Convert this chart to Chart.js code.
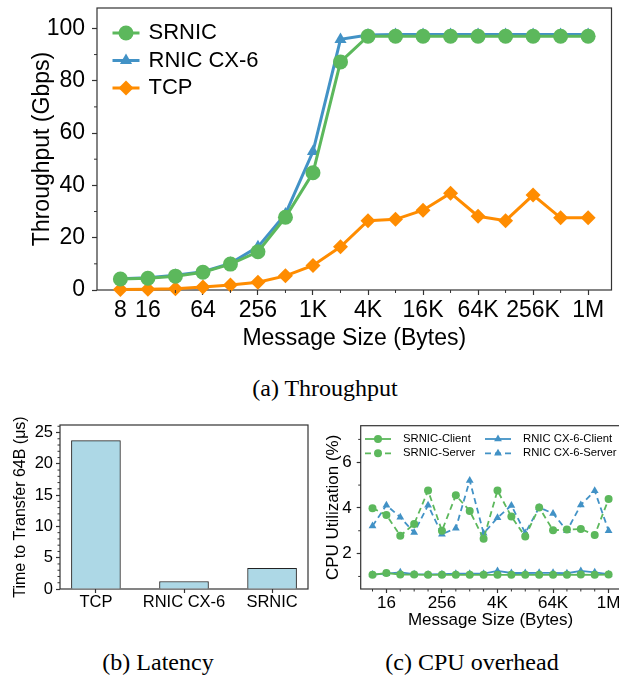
<!DOCTYPE html>
<html>
<head>
<meta charset="utf-8">
<script src="https://cdn.jsdelivr.net/npm/chart.js@4.4.0/dist/chart.umd.min.js"></script>
<style>
  html, body { margin: 0; padding: 0; background: #fff; overflow: hidden; width: 619px; height: 679px; }
  .box { position: absolute; }
  .cap { position: absolute; font-family: "Liberation Serif", "Times New Roman", serif; font-size: 24px; color: #000; white-space: nowrap; transform: translateX(-50%); }
</style>
</head>
<body>
<div class="box" style="left:0;top:0"><canvas id="thr" width="619" height="360"></canvas></div>
<div class="cap" style="left:325px;top:375px">(a) Throughput</div>
<div class="box" style="left:0;top:400px"><canvas id="lat" width="310" height="240"></canvas></div>
<div class="box" style="left:310px;top:400px"><canvas id="cpu" width="320" height="240"></canvas></div>
<div class="cap" style="left:158px;top:649px">(b) Latency</div>
<div class="cap" style="left:472px;top:649px">(c) CPU overhead</div>
<script>
// message sizes as log2(bytes): 8 B .. 1 MB
var sizeExp = [3, 4, 5, 6, 7, 8, 9, 10, 11, 12, 13, 14, 15, 16, 17, 18, 19, 20];

// (a) throughput, Gbps
var srnicTput = [4.2, 4.5, 5.3, 6.8, 9.9, 14.6, 27.8, 44.8, 87.2, 97.0, 97.0, 97.0, 97.0, 97.0, 97.0, 97.0, 97.0, 97.0];
var rnicTput = [4.3, 4.7, 5.6, 7.0, 10.2, 16.5, 29.1, 52.9, 95.8, 97.5, 97.7, 97.7, 97.7, 97.7, 97.7, 97.7, 97.7, 97.7];
var tcpTput = [0.2, 0.3, 0.5, 1.1, 1.9, 3.0, 5.4, 9.4, 16.5, 26.5, 27.0, 30.5, 37.0, 28.2, 26.5, 36.3, 27.6, 27.6];
var thrTickVals = [3, 4, 6, 8, 10, 12, 14, 16, 18, 20];
var thrTickLabels = ["8", "16", "64", "256", "1K", "4K", "16K", "64K", "256K", "1M"];

// (b) latency, us
var latCats = ["TCP", "RNIC CX-6", "SRNIC"];
var latVals = [23.7, 1.2, 3.3];

// (c) CPU utilization, %
var srnicClient = [1.07, 1.15, 1.08, 1.08, 1.07, 1.07, 1.07, 1.07, 1.07, 1.07, 1.07, 1.07, 1.07, 1.07, 1.07, 1.08, 1.07, 1.08];
var srnicServer = [3.99, 3.69, 2.78, 3.30, 4.76, 3.00, 4.55, 3.87, 2.65, 4.76, 3.62, 2.75, 4.02, 3.02, 3.05, 3.08, 2.81, 4.39];
var rnicClient = [1.08, 1.12, 1.18, 1.10, 1.09, 1.10, 1.12, 1.12, 1.12, 1.24, 1.15, 1.15, 1.16, 1.16, 1.14, 1.24, 1.18, 1.10];
var rnicServer = [3.21, 4.12, 3.59, 2.92, 4.12, 2.85, 3.11, 5.20, 2.89, 3.57, 4.11, 2.90, 4.02, 3.76, 3.00, 4.13, 4.75, 3.00];
var cpuTickVals = [4, 8, 12, 16, 20];
var cpuTickLabels = ["16", "256", "4K", "64K", "1M"];

var GREEN = "#5cb85c", BLUE = "#4292c6", ORANGE = "#ff8c00", EDGE = "#333";

Chart.defaults.font.family = "'Liberation Sans', Arial, sans-serif";
Chart.defaults.color = "#000";

function pts(vals) {
  return sizeExp.map(function (e, i) { return { x: e, y: vals[i] }; });
}

function fixSize(w, h) {
  return function (scale) {
    if (w != null) scale.width = w;
    if (h != null) scale.height = h;
    scale.paddingLeft = scale.paddingRight = scale.paddingTop = scale.paddingBottom = 0;
  };
}

function setTicks(vals) {
  return function (scale) {
    scale.ticks = vals.map(function (v) { return { value: v }; });
  };
}

function minorList(from, to, step, skip) {
  var out = [];
  for (var v = from; v <= to; v += step) if (skip.indexOf(v) < 0) out.push(v);
  return out;
}

var frame = {
  id: "frame",
  beforeDatasetsDraw: function (chart) {
    var ctx = chart.ctx, a = chart.chartArea;
    ctx.save();
    ctx.strokeStyle = EDGE;
    ctx.lineWidth = 1.2;
    ctx.strokeRect(a.left, a.top, a.right - a.left, a.bottom - a.top);
    ctx.restore();
  }
};

var minorTicks = {
  id: "minorTicks",
  afterDraw: function (chart, args, o) {
    var ctx = chart.ctx, a = chart.chartArea;
    ctx.save();
    ctx.strokeStyle = EDGE;
    ctx.lineWidth = 1;
    (o.x || []).forEach(function (v) {
      var px = chart.scales.x.getPixelForValue(v);
      ctx.beginPath(); ctx.moveTo(px, a.bottom); ctx.lineTo(px, a.bottom + o.len); ctx.stroke();
    });
    (o.y || []).forEach(function (v) {
      var py = chart.scales.y.getPixelForValue(v);
      ctx.beginPath(); ctx.moveTo(a.left, py); ctx.lineTo(a.left - o.len, py); ctx.stroke();
    });
    ctx.restore();
  }
};

var insideLegend = {
  id: "insideLegend",
  afterDraw: function (chart, args, o) {
    if (!o.show) return;
    var ctx = chart.ctx, a = chart.chartArea;
    ctx.save();
    chart.data.datasets.forEach(function (ds, i) {
      var col = Math.floor(i / o.rows), row = i % o.rows;
      var x = a.left + o.x[col], y = a.top + o.y + row * o.rowH;
      ctx.strokeStyle = ds.borderColor;
      ctx.lineWidth = ds.borderWidth;
      ctx.setLineDash(ds.borderDash || []);
      ctx.beginPath(); ctx.moveTo(x, y); ctx.lineTo(x + o.lineLen, y); ctx.stroke();
      ctx.setLineDash([]);
      ctx.fillStyle = ds.pointBackgroundColor;
      Chart.helpers.drawPoint(ctx, { pointStyle: ds.pointStyle, radius: ds.pointRadius, rotation: 0, borderWidth: 0 }, x + o.lineLen / 2, y);
      ctx.fillStyle = "#000";
      ctx.font = o.font;
      ctx.textBaseline = "middle";
      ctx.textAlign = "left";
      ctx.fillText(ds.label, x + o.lineLen + o.gap, y);
    });
    ctx.restore();
  }
};

function lineSet(label, vals, color, style, r, lw, dash) {
  return {
    label: label, data: pts(vals),
    borderColor: color, backgroundColor: color,
    pointBackgroundColor: color, pointBorderColor: color, pointBorderWidth: 0,
    pointStyle: style, pointRadius: r, pointHoverRadius: r,
    borderWidth: lw, borderDash: dash || [], tension: 0, fill: false, clip: false
  };
}

function tickGrid(len) {
  return { display: true, drawOnChartArea: false, drawTicks: true, tickLength: len, tickColor: EDGE, tickWidth: 1.2 };
}

// (a) Throughput
new Chart(document.getElementById("thr"), {
  type: "line",
  data: {
    datasets: [
      lineSet("SRNIC", srnicTput, GREEN, "circle", 7.5, 3),
      lineSet("RNIC CX-6", rnicTput, BLUE, "triangle", 7, 3),
      lineSet("TCP", tcpTput, ORANGE, "rectRot", 7.5, 3)
    ]
  },
  options: {
    animation: false, responsive: false,
    layout: { padding: { left: 0, top: 8, right: 3, bottom: 0 } },
    plugins: {
      legend: { display: false }, tooltip: { enabled: false },
      minorTicks: { x: [5, 7, 9, 11, 13, 15, 17, 19], y: [10, 30, 50, 70, 90], len: 3 },
      insideLegend: { show: true, rows: 3, x: [15.5], y: 25, rowH: 27.5, lineLen: 27, gap: 9, font: "22px 'Liberation Sans', Arial, sans-serif" }
    },
    scales: {
      x: {
        type: "linear", min: 2.15, max: 20.85,
        afterBuildTicks: setTicks(thrTickVals), afterFit: fixSize(null, 70),
        grid: tickGrid(5), border: { display: false },
        ticks: { autoSkip: false, maxRotation: 0, padding: 2, font: { size: 23 },
          callback: function (v) { return thrTickLabels[thrTickVals.indexOf(v)]; } },
        title: { display: true, text: "Message Size (Bytes)", font: { size: 23 }, padding: { top: 0, bottom: 8 } }
      },
      y: {
        min: 0, max: 107.8,
        afterBuildTicks: setTicks([0, 20, 40, 60, 80, 100]), afterFit: fixSize(97, null),
        grid: tickGrid(5), border: { display: false },
        ticks: { padding: 7, font: { size: 23 } },
        title: { display: true, text: "Throughput (Gbps)", font: { size: 23 }, padding: { top: 29, bottom: 0 } }
      }
    }
  },
  plugins: [frame, minorTicks, insideLegend]
});

// (b) Latency
new Chart(document.getElementById("lat"), {
  type: "bar",
  data: {
    datasets: [{
      label: "Latency",
      data: latVals.map(function (v, i) { return { x: i, y: v }; }),
      backgroundColor: "#add8e6", borderColor: "#222", borderWidth: 1, barThickness: 49
    }]
  },
  options: {
    animation: false, responsive: false,
    layout: { padding: { left: 0, top: 25, right: 2, bottom: 0 } },
    plugins: {
      legend: { display: false }, tooltip: { enabled: false },
      minorTicks: { y: minorList(1, 26, 1, [5, 10, 15, 20, 25]), len: 2.5 }
    },
    scales: {
      x: {
        type: "linear", min: -0.408, max: 2.408, offset: false,
        afterBuildTicks: setTicks([0, 1, 2]), afterFit: fixSize(null, 51),
        grid: Object.assign(tickGrid(4), { offset: false }), border: { display: false },
        ticks: { autoSkip: false, maxRotation: 0, padding: 0, font: { size: 16.5 },
          callback: function (v) { return latCats[v]; } }
      },
      y: {
        min: 0, max: 26.2,
        afterBuildTicks: setTicks([0, 5, 10, 15, 20, 25]), afterFit: fixSize(60, null),
        grid: tickGrid(4), border: { display: false },
        ticks: { padding: 3, font: { size: 16.5 } },
        title: { display: true, text: "Time to Transfer 64B (\u03bcs)", font: { size: 16 }, padding: { top: 11, bottom: 0 } }
      }
    }
  },
  plugins: [frame, minorTicks]
});

// (c) CPU overhead
new Chart(document.getElementById("cpu"), {
  type: "line",
  data: {
    datasets: [
      lineSet("SRNIC-Client", srnicClient, GREEN, "circle", 4, 1.8),
      lineSet("SRNIC-Server", srnicServer, GREEN, "circle", 4, 1.8, [6, 4]),
      lineSet("RNIC CX-6-Client", rnicClient, BLUE, "triangle", 4.5, 1.8),
      lineSet("RNIC CX-6-Server", rnicServer, BLUE, "triangle", 4.5, 1.8, [6, 4])
    ]
  },
  options: {
    animation: false, responsive: false,
    layout: { padding: { left: 0, top: 25.7, right: 9.6, bottom: 0 } },
    plugins: {
      legend: { display: false }, tooltip: { enabled: false },
      minorTicks: { x: [3, 5, 6, 7, 9, 10, 11, 13, 14, 15, 17, 18, 19], y: [1, 3, 5, 7], len: 2.5 },
      insideLegend: { show: true, rows: 2, x: [4.3, 124.3], y: 13.3, rowH: 14.3, lineLen: 26, gap: 12, font: "11.3px 'Liberation Sans', Arial, sans-serif" }
    },
    scales: {
      x: {
        type: "linear", min: 2.15, max: 20.85,
        afterBuildTicks: setTicks(cpuTickVals), afterFit: fixSize(null, 51),
        grid: tickGrid(4), border: { display: false },
        ticks: { autoSkip: false, maxRotation: 0, padding: 0, font: { size: 17 },
          callback: function (v) { return cpuTickLabels[cpuTickVals.indexOf(v)]; } },
        title: { display: true, text: "Message Size (Bytes)", font: { size: 17 }, padding: { top: 0, bottom: 9 } }
      },
      y: {
        min: 0.45, max: 7.6,
        afterBuildTicks: setTicks([2, 4, 6]), afterFit: fixSize(50.7, null),
        grid: tickGrid(4), border: { display: false },
        ticks: { padding: 5, font: { size: 17 } },
        title: { display: true, text: "CPU Utilization (%)", font: { size: 17 }, padding: { top: 13, bottom: 0 } }
      }
    }
  },
  plugins: [frame, minorTicks, insideLegend]
});
</script>
</body>
</html>
